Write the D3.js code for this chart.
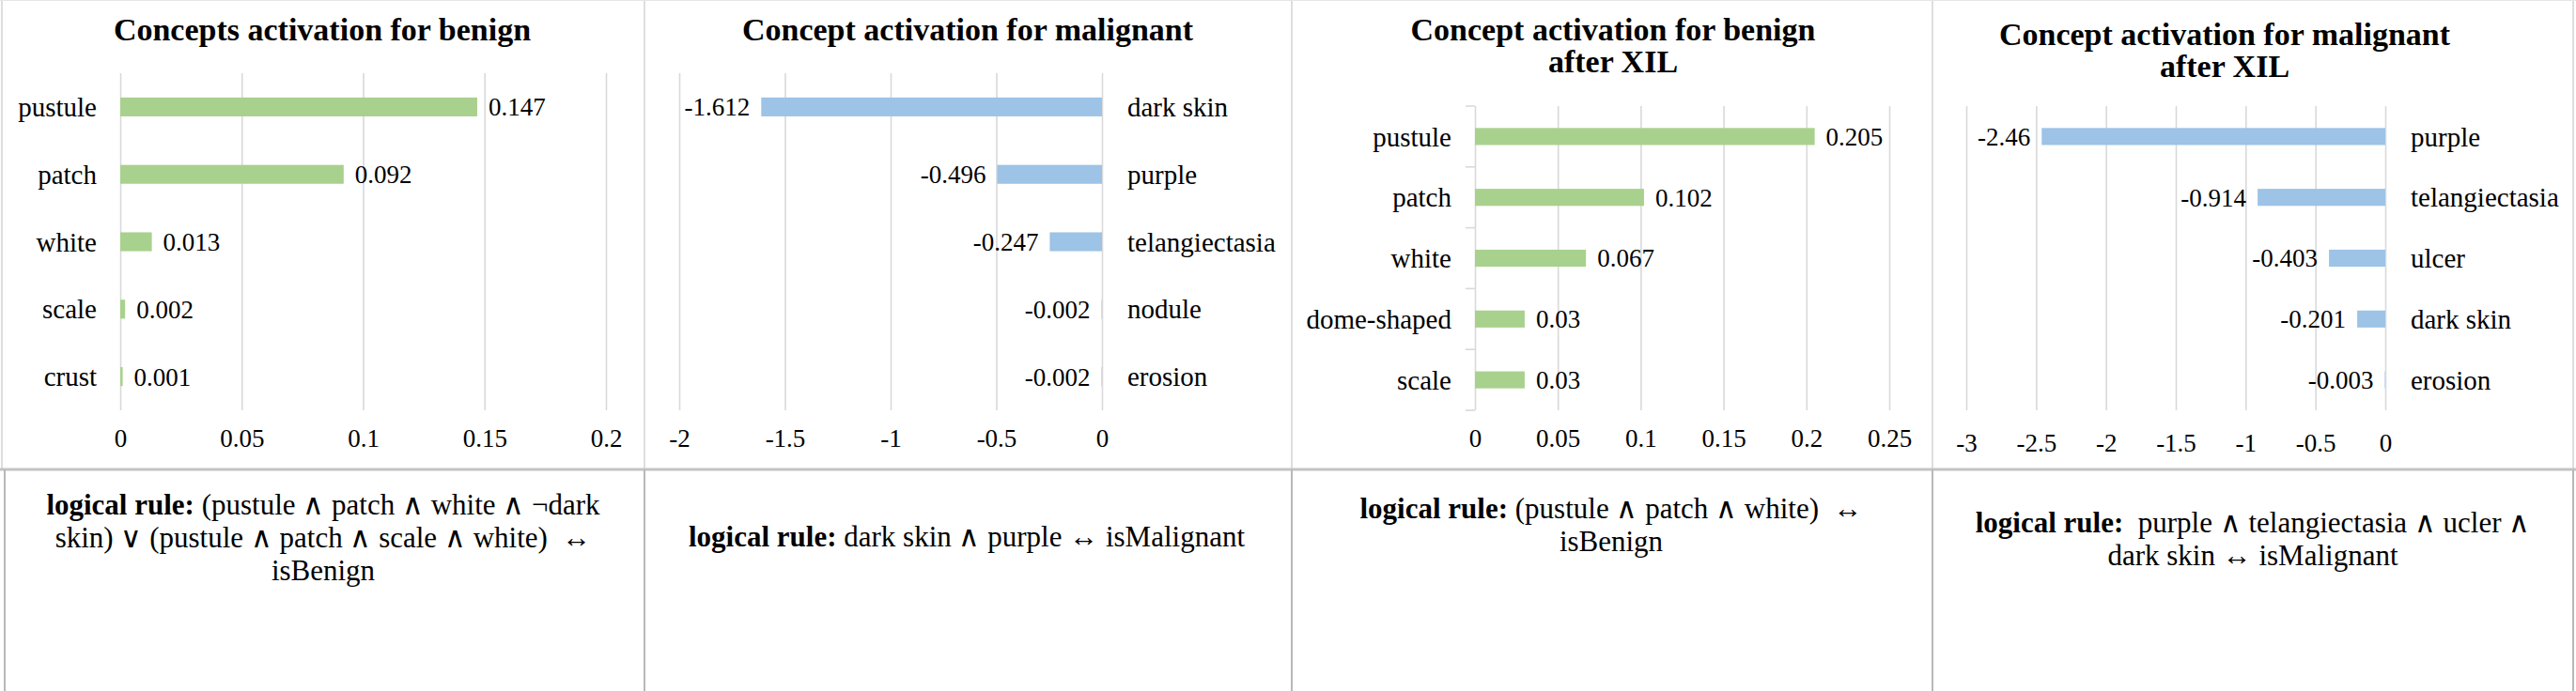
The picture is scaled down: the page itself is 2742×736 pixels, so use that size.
<!DOCTYPE html>
<html>
<head>
<meta charset="utf-8">
<script src="https://cdn.jsdelivr.net/npm/d3@7"></script>
<style>
  html, body { margin: 0; padding: 0; background: #fff; }
  svg { display: block; font-family: "Liberation Serif", "Times New Roman", serif; }
  text { white-space: pre; }
</style>
</head>
<body>
<svg id="chart" width="2742" height="736"></svg>
<script>
// ---------- data ----------
const benignCats = ["pustule", "patch", "white", "scale", "crust"];
const benignVals = [0.147, 0.092, 0.013, 0.002, 0.001];
const benignTicks = [0, 0.05, 0.1, 0.15, 0.2];

const malignantCats = ["dark skin", "purple", "telangiectasia", "nodule", "erosion"];
const malignantVals = [-1.612, -0.496, -0.247, -0.002, -0.002];
const malignantTicks = [-2, -1.5, -1, -0.5, 0];

const benignXilCats = ["pustule", "patch", "white", "dome-shaped", "scale"];
const benignXilVals = [0.205, 0.102, 0.067, 0.03, 0.03];
const benignXilTicks = [0, 0.05, 0.1, 0.15, 0.2, 0.25];

const malignantXilCats = ["purple", "telangiectasia", "ulcer", "dark skin", "erosion"];
const malignantXilVals = [-2.46, -0.914, -0.403, -0.201, -0.003];
const malignantXilTicks = [-3, -2.5, -2, -1.5, -1, -0.5, 0];

const titles = [
  ["Concepts activation for benign"],
  ["Concept activation for malignant"],
  ["Concept activation for benign", "after XIL"],
  ["Concept activation for malignant", "after XIL"]
];
const rules = [
  [["logical rule:", " (pustule \u2227 patch \u2227 white \u2227 \u00acdark"], ["", "skin) \u2228 (pustule \u2227 patch \u2227 scale \u2227 white)  \u2194"], ["", "isBenign"]],
  [["logical rule:", " dark skin \u2227 purple \u2194 isMalignant"]],
  [["logical rule:", " (pustule \u2227 patch \u2227 white)  \u2194"], ["", "isBenign"]],
  [["logical rule:", "  purple \u2227 telangiectasia \u2227 ucler \u2227"], ["", "dark skin \u2194 isMalignant"]]
];

// ---------- layout / style ----------
const GREEN = "#a9d18e", BLUE = "#9dc3e6", GRID = "#d9d9d9";
const panels = [
  { cats: benignCats, vals: benignVals, ticks: benignTicks, color: GREEN,
    x0: 128, x1: 645, y0: 78, y1: 437, tickY: 467, titleX: 343, titleY: 43, catTicks: false,
    ruleX: 344, ruleY: 548 },
  { cats: malignantCats, vals: malignantVals, ticks: malignantTicks, color: BLUE,
    x0: 723, x1: 1173, y0: 78, y1: 437, tickY: 467, titleX: 1030, titleY: 43, catTicks: false,
    ruleX: 1029, ruleY: 582 },
  { cats: benignXilCats, vals: benignXilVals, ticks: benignXilTicks, color: GREEN,
    x0: 1570, x1: 2011, y0: 113, y1: 437, tickY: 467, titleX: 1717, titleY: 43, catTicks: true,
    ruleX: 1715, ruleY: 552 },
  { cats: malignantXilCats, vals: malignantXilVals, ticks: malignantXilTicks, color: BLUE,
    x0: 2093, x1: 2539, y0: 113, y1: 437, tickY: 472, titleX: 2368, titleY: 48, catTicks: false,
    ruleX: 2398, ruleY: 567 }
];

const svg = d3.select("#chart");
svg.append("rect").attr("width", 2742).attr("height", 736).attr("fill", "#fff");

panels.forEach((p, i) => {
  const g = svg.append("g");
  const ext = d3.extent(p.ticks);
  const x = d3.scaleLinear().domain(ext).range([p.x0, p.x1]);
  const y = d3.scaleBand().domain(p.cats).range([p.y0, p.y1]).paddingInner(0.72).paddingOuter(0.36);
  const negative = ext[0] < 0;

  // title
  const t = g.append("text").attr("x", p.titleX).attr("y", p.titleY)
    .attr("text-anchor", "middle").attr("font-weight", "bold").attr("font-size", 34).attr("fill", "#000");
  titles[i].forEach((line, k) => t.append("tspan").attr("x", p.titleX).attr("dy", k === 0 ? 0 : 34).text(line));

  // gridlines (vertical) via axis
  const grid = g.append("g").attr("transform", `translate(0,${p.y1})`)
    .call(d3.axisBottom(x).tickValues(p.ticks).tickSize(-(p.y1 - p.y0)).tickFormat(""));
  grid.select(".domain").remove();
  grid.selectAll(".tick line").attr("stroke", GRID).attr("stroke-width", 1.6);

  // category tick marks
  if (p.catTicks) {
    const bounds = p.cats.map(c => y(c) - y.step() * y.paddingInner() / 2).concat([p.y1]);
    g.selectAll(".ct").data(bounds).join("line")
      .attr("x1", x(0) - 10).attr("x2", x(0)).attr("y1", d => d).attr("y2", d => d)
      .attr("stroke", GRID).attr("stroke-width", 1.6);
  }

  // tick labels
  const ax = g.append("g").attr("transform", `translate(0,${p.tickY})`)
    .call(d3.axisBottom(x).tickValues(p.ticks).tickSize(0).tickPadding(0).tickFormat(d => String(d)));
  ax.select(".domain").remove();
  ax.attr("font-family", null);
  ax.selectAll("text").attr("font-family", "Liberation Serif, Times New Roman, serif")
    .attr("font-size", 27).attr("fill", "#000").attr("dy", "0.35em").attr("y", 0);

  const data = p.cats.map((c, k) => ({ c, v: p.vals[k] }));
  // bars
  g.selectAll(".bar").data(data).join("rect")
    .attr("x", d => Math.min(x(0), x(d.v)))
    .attr("width", d => Math.abs(x(d.v) - x(0)))
    .attr("y", d => y(d.c)).attr("height", y.bandwidth())
    .attr("fill", p.color);

  // value labels
  g.selectAll(".val").data(data).join("text")
    .attr("x", d => d.v < 0 ? x(d.v) - 12 : x(d.v) + 12)
    .attr("y", d => y(d.c) + y.bandwidth() / 2).attr("dy", "0.35em")
    .attr("text-anchor", d => d.v < 0 ? "end" : "start")
    .attr("font-size", 27).attr("fill", "#000")
    .text(d => String(d.v));

  // category labels
  g.selectAll(".cat").data(data).join("text")
    .attr("x", negative ? x(0) + 27 : x(0) - 25)
    .attr("y", d => y(d.c) + y.bandwidth() / 2).attr("dy", "0.35em")
    .attr("text-anchor", negative ? "start" : "end")
    .attr("font-size", 29).attr("fill", "#000")
    .text(d => d.c);

  // logical rule text
  const r = g.append("text").attr("x", p.ruleX).attr("y", p.ruleY)
    .attr("text-anchor", "middle").attr("font-size", 31).attr("fill", "#000");
  rules[i].forEach((line, k) => {
    const first = r.append("tspan").attr("x", p.ruleX).attr("dy", k === 0 ? 0 : 35);
    if (line[0]) {
      first.attr("font-weight", "bold").text(line[0]);
      r.append("tspan").text(line[1]);
    } else {
      first.text(line[1]);
    }
  });
});

// table / chart borders
const topLines = [2, 686, 1375, 2057, 2739];
svg.selectAll(".vt").data(topLines).join("line")
  .attr("x1", d => d).attr("x2", d => d).attr("y1", 0).attr("y2", 499)
  .attr("stroke", "#dedede").attr("stroke-width", 2);
svg.append("line").attr("x1", 0).attr("x2", 2742).attr("y1", 0.5).attr("y2", 0.5)
  .attr("stroke", "#e6e6e6").attr("stroke-width", 1);
svg.append("line").attr("x1", 0).attr("x2", 2742).attr("y1", 500).attr("y2", 500)
  .attr("stroke", "#c4c4c4").attr("stroke-width", 3);
const botLines = [5, 686, 1375, 2057, 2739];
svg.selectAll(".vb").data(botLines).join("line")
  .attr("x1", d => d).attr("x2", d => d).attr("y1", 500).attr("y2", 736)
  .attr("stroke", "#b8b8b8").attr("stroke-width", 2);
</script>
</body>
</html>
